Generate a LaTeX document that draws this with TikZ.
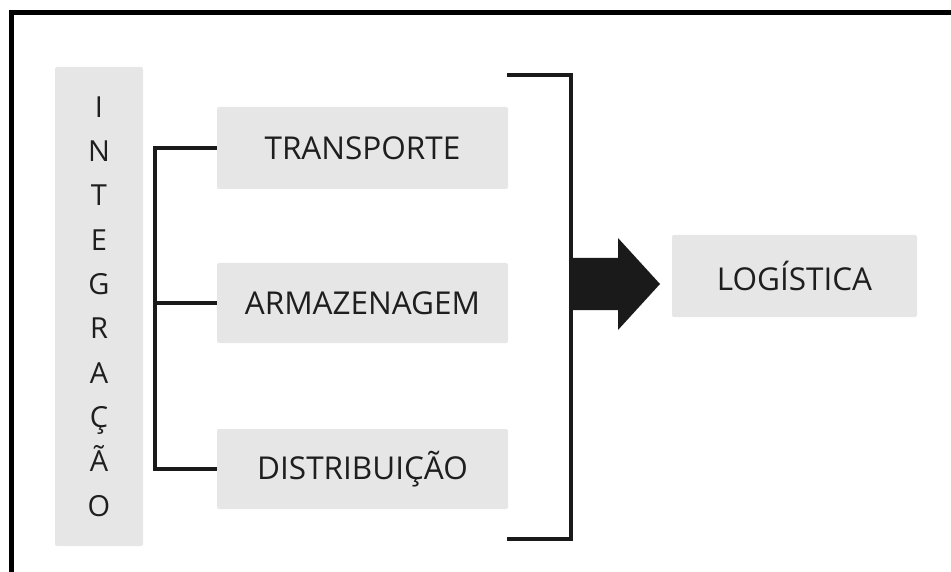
\documentclass[tikz,border=0pt]{standalone}
\usepackage{fontspec}
\setmainfont{Open Sans}
\definecolor{boxgray}{HTML}{E6E6E6}
\definecolor{txt}{HTML}{1E1E1E}
\definecolor{linec}{HTML}{1A1A1A}
\begin{document}
\begin{tikzpicture}[x=1pt,y=-1pt,
  box/.style={fill=boxgray, rounded corners=2pt, minimum width=291pt, minimum height=81pt,
    inner sep=0pt, text=txt, font=\fontsize{31.5}{36}\selectfont},
  conn/.style={draw=linec, line width=3.6pt},
]
\useasboundingbox (0,0) rectangle (951,572);
\clip (0,0) rectangle (951,572);
\draw[line width=5pt] (11,12.5) rectangle (990,620);

\node[box, minimum width=88pt, minimum height=479pt, align=center,
      font=\fontsize{29}{44.3}\selectfont] (int) at (99,306.5)
      {I\\N\\T\\E\\G\\R\\A\\Ç\\Ã\\O};

\node[box, minimum height=82pt] (tr)  at (362.5,148) {TRANSPORTE};
\node[box, minimum height=80pt] (arm) at (362.5,303) {ARMAZENAGEM};
\node[box, minimum height=80pt] (dis) at (362.5,469) {DISTRIBUIÇÃO};
\node[box, minimum width=245pt, minimum height=82pt] (log) at (794.5,276) {LOGÍSTICA};

\coordinate (sp) at (155,0);
\draw[conn] (tr.west) -- (tr.west -| sp) -- (dis.west -| sp) -- (dis.west);
\draw[conn] (arm.west) -- (arm.west -| sp);

\coordinate (brt) at (507,75);
\coordinate (brb) at (507,539);
\coordinate (brx) at (571,0);
\draw[conn] (brt) -- (brt -| brx) -- (brb -| brx) -- (brb);

\coordinate (ab) at (572,284);
\fill[linec] (ab) ++(0,-26) -- ++(46,0) -- ++(0,-20) -- ++(42,46)
  -- ++(-42,46) -- ++(0,-20) -- ++(-46,0) -- cycle;
\end{tikzpicture}
\end{document}
